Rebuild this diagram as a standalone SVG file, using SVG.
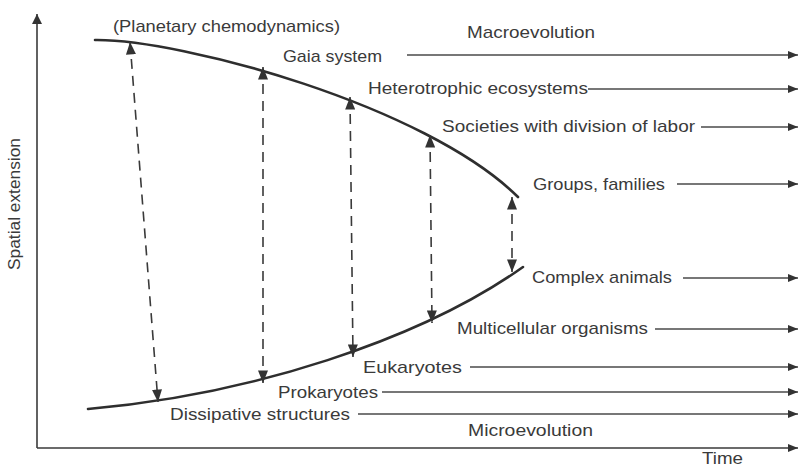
<svg xmlns="http://www.w3.org/2000/svg" width="800" height="468" viewBox="0 0 800 468">
  <style>
    .lbl { font-family: "Liberation Sans", Arial, sans-serif; font-size: 17px; fill: #3a3a3a; }
    .axis { stroke: #3a3a3a; stroke-width: 1.6; fill: none; }
    .flow { stroke: #4a4a4a; stroke-width: 1.3; fill: none; marker-end: url(#head); }
    .curve { stroke: #2e2e2e; stroke-width: 2.6; fill: none; stroke-linecap: round; }
    .link { stroke: #3a3a3a; stroke-width: 1.6; fill: none; stroke-dasharray: 10 7; marker-start: url(#tip); marker-end: url(#tip); }
  </style>
  <defs>
    <marker id="head" viewBox="0 0 10 8" refX="10" refY="4" markerWidth="11" markerHeight="8" markerUnits="userSpaceOnUse" orient="auto">
      <path d="M0,0 L10,4 L0,8 Z" fill="#333"/>
    </marker>
    <marker id="tip" viewBox="0 0 10 8" refX="10" refY="4" markerWidth="13" markerHeight="10" markerUnits="userSpaceOnUse" orient="auto-start-reverse">
      <path d="M0,0 L10,4 L0,8 Z" fill="#333"/>
    </marker>
    <marker id="axisHead" viewBox="0 0 10 10" refX="10" refY="5" markerWidth="14" markerHeight="10" markerUnits="userSpaceOnUse" orient="auto">
      <path d="M0,0 L10,5 L0,10 Z" fill="#333"/>
    </marker>
  </defs>

  <rect width="800" height="468" fill="#ffffff"/>

  <!-- axes -->
  <g id="axes">
    <path class="axis" d="M37,448 L37,14" marker-end="url(#axisHead)"/>
    <path class="axis" d="M37,448 L798,448" marker-end="url(#head)"/>
    <text class="lbl" font-size="15" transform="translate(20,204) rotate(-90)" text-anchor="middle" textLength="132" lengthAdjust="spacingAndGlyphs">Spatial extension</text>
    <text class="lbl" font-size="15" x="702" y="464" textLength="41" lengthAdjust="spacingAndGlyphs">Time</text>
  </g>

  <!-- envelope curves -->
  <g id="envelope">
    <path class="curve" d="M95,40 C180,39 425,105 518,197"/>
    <path class="curve" d="M88,409 C250,395 420,340 523,267"/>
  </g>

  <!-- dashed links between levels -->
  <g id="connectors">
    <line class="link" x1="130" y1="42" x2="158" y2="402"/>
    <line class="link" x1="263" y1="67" x2="263" y2="383"/>
    <line class="link" x1="350" y1="97" x2="353" y2="357"/>
    <line class="link" x1="430" y1="135" x2="432" y2="323"/>
    <line class="link" x1="512" y1="197" x2="512" y2="272"/>

    <line class="flow" x1="407" y1="55" x2="798" y2="55"/>
    <line class="flow" x1="588" y1="89" x2="798" y2="89"/>
    <line class="flow" x1="701" y1="127" x2="798" y2="127"/>
    <line class="flow" x1="677" y1="184" x2="798" y2="184"/>
    <line class="flow" x1="683" y1="278" x2="798" y2="278"/>
    <line class="flow" x1="655" y1="329" x2="798" y2="329"/>
    <line class="flow" x1="470" y1="367" x2="798" y2="367"/>
    <line class="flow" x1="382" y1="392" x2="798" y2="392"/>
    <line class="flow" x1="358" y1="414" x2="798" y2="414"/>
  </g>

  <!-- level labels -->
  <g id="planetary"><text class="lbl" x="113" y="32" textLength="227" lengthAdjust="spacingAndGlyphs">(Planetary chemodynamics)</text></g>
  <g id="macroevolution"><text class="lbl" x="467" y="38" textLength="128" lengthAdjust="spacingAndGlyphs">Macroevolution</text></g>
  <g id="gaia"><text class="lbl" x="283" y="62" textLength="99" lengthAdjust="spacingAndGlyphs">Gaia system</text></g>
  <g id="heterotrophic"><text class="lbl" x="368" y="94" textLength="220" lengthAdjust="spacingAndGlyphs">Heterotrophic ecosystems</text></g>
  <g id="societies"><text class="lbl" x="442" y="132" textLength="253" lengthAdjust="spacingAndGlyphs">Societies with division of labor</text></g>
  <g id="groups"><text class="lbl" x="533" y="190" textLength="132" lengthAdjust="spacingAndGlyphs">Groups, families</text></g>
  <g id="complex"><text class="lbl" x="532" y="283" textLength="140" lengthAdjust="spacingAndGlyphs">Complex animals</text></g>
  <g id="multicellular"><text class="lbl" x="457" y="334" textLength="191" lengthAdjust="spacingAndGlyphs">Multicellular organisms</text></g>
  <g id="eukaryotes"><text class="lbl" x="363" y="373" textLength="99" lengthAdjust="spacingAndGlyphs">Eukaryotes</text></g>
  <g id="prokaryotes"><text class="lbl" x="278" y="398" textLength="100" lengthAdjust="spacingAndGlyphs">Prokaryotes</text></g>
  <g id="dissipative"><text class="lbl" x="170" y="420" textLength="180" lengthAdjust="spacingAndGlyphs">Dissipative structures</text></g>
  <g id="microevolution"><text class="lbl" x="468" y="436" textLength="125" lengthAdjust="spacingAndGlyphs">Microevolution</text></g>
</svg>
